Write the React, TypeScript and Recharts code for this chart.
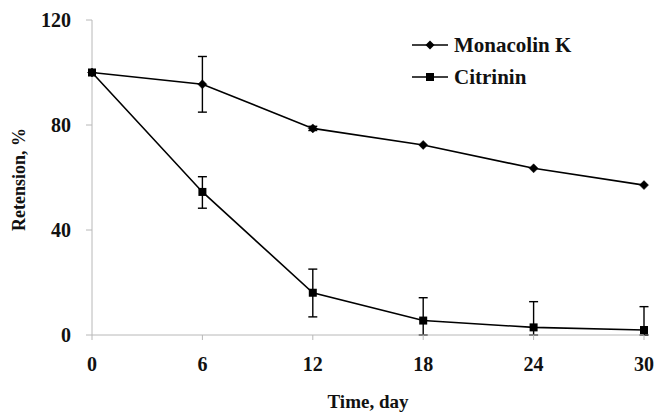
import React from 'react';
import { LineChart, Line, XAxis, YAxis, ErrorBar, Label } from 'recharts';

const days = [0, 6, 12, 18, 24, 30];
const monacolinK = [100, 95.5, 78.7, 72.4, 63.5, 57.1];
const monacolinKErr = [null, 10.6, 0.8, null, null, null];
const citrinin = [100, 54.5, 16.1, 5.5, 2.9, 1.9];
const citrininErrUp = [null, 5.8, 9.0, 8.7, 9.8, 8.9];
const citrininErrDown = [null, 6.2, 9.2, 5.5, 2.9, 1.9];
const xTicks = [0, 6, 12, 18, 24, 30];
const yTicks = [0, 40, 80, 120];
const seriesNames = ['Monacolin K', 'Citrinin'];

const data = days.map((d, i) => ({
  day: d,
  mk: monacolinK[i],
  mkErr: monacolinKErr[i] == null ? undefined : monacolinKErr[i],
  cit: citrinin[i],
  citErr: citrininErrUp[i] == null ? undefined : [citrininErrDown[i], citrininErrUp[i]],
}));

const FONT = '"Liberation Serif", "Times New Roman", serif';
const AXIS_GRAY = '#b8b8b8';

const Diamond = (props: any) => {
  const { cx, cy } = props;
  if (cx == null || cy == null) return null;
  const r = 4.5;
  return <path d={`M${cx},${cy - r}L${cx + r},${cy}L${cx},${cy + r}L${cx - r},${cy}Z`} fill="#000" stroke="#000" strokeWidth={0.5} />;
};

const Square = (props: any) => {
  const { cx, cy } = props;
  if (cx == null || cy == null) return null;
  const s = 8;
  return <rect x={cx - s / 2} y={cy - s / 2} width={s} height={s} fill="#000" />;
};

const LegendBox = () => (
  <div style={{ position: 'absolute', left: 410, top: 29, fontFamily: FONT, fontWeight: 'bold', fontSize: 21, color: '#111' }}>
    {seriesNames.map((name, i) => (
      <div key={name} style={{ display: 'flex', alignItems: 'center', height: 32 }}>
        <svg width={42} height={12} style={{ marginRight: 2 }}>
          <line x1={2} y1={6} x2={38} y2={6} stroke="#000" strokeWidth={1.6} />
          {i === 0 ? (
            <path d="M20,1.5L24.5,6L20,10.5L15.5,6Z" fill="#000" />
          ) : (
            <rect x={16} y={2} width={8} height={8} fill="#000" />
          )}
        </svg>
        <span>{name}</span>
      </div>
    ))}
  </div>
);

export default function App() {
  return (
    <div style={{ position: 'absolute', left: 0, top: 0, width: 657, height: 412, background: '#fff' }}>
      <LineChart width={657} height={412} data={data} margin={{ top: 20, right: 13, bottom: 0, left: 0 }}>
        <XAxis
          dataKey="day"
          type="number"
          domain={[0, 30]}
          ticks={xTicks}
          stroke={AXIS_GRAY}
          tickSize={5}
          tickMargin={17}
          height={77}
          tick={{ fill: '#111', fontFamily: FONT, fontWeight: 'bold', fontSize: 20 }}
        >
          <Label value="Time, day" position="insideBottom" offset={4} style={{ fill: '#111', fontFamily: FONT, fontWeight: 'bold', fontSize: 19 }} />
        </XAxis>
        <YAxis
          type="number"
          domain={[0, 120]}
          ticks={yTicks}
          stroke={AXIS_GRAY}
          tickSize={6}
          tickMargin={15}
          width={92}
          tick={{ fill: '#111', fontFamily: FONT, fontWeight: 'bold', fontSize: 20 }}
        >
          <Label value="Retension, %" angle={-90} position="insideLeft" offset={19} dy={2} style={{ fill: '#111', fontFamily: FONT, fontWeight: 'bold', fontSize: 18, textAnchor: 'middle' }} />
        </YAxis>
        <Line
          type="linear"
          dataKey="mk"
          name={seriesNames[0]}
          stroke="#000"
          strokeWidth={1.6}
          dot={<Diamond />}
          activeDot={false}
          isAnimationActive={false}
        >
          <ErrorBar dataKey="mkErr" direction="y" width={4.5} stroke="#000" strokeWidth={1.4} />
        </Line>
        <Line
          type="linear"
          dataKey="cit"
          name={seriesNames[1]}
          stroke="#000"
          strokeWidth={1.6}
          dot={<Square />}
          activeDot={false}
          isAnimationActive={false}
        >
          <ErrorBar dataKey="citErr" direction="y" width={4.5} stroke="#000" strokeWidth={1.4} />
        </Line>
      </LineChart>
      <LegendBox />
    </div>
  );
}
